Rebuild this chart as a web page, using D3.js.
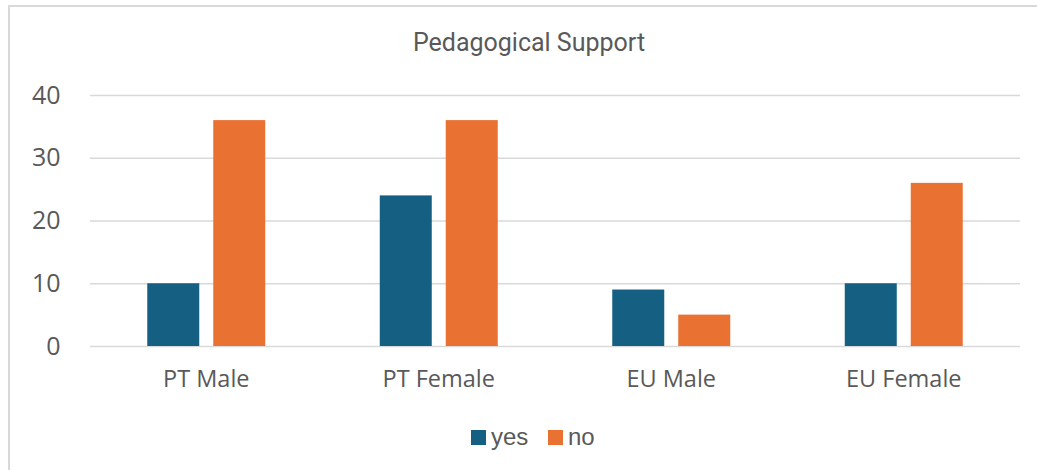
<!DOCTYPE html>
<html>
<head>
<meta charset="utf-8">
<script src="https://cdn.jsdelivr.net/npm/d3@7"></script>
<style>
  body { margin: 0; background: #fff; }
  #js_chart { width: 1037px; height: 470px; }
</style>
</head>
<body>
<div id="js_chart"></div>
<script>
const categories = ["PT Male", "PT Female", "EU Male", "EU Female"];
const seriesNames = ["yes", "no"];
const yesValues = [10, 24, 9, 10];
const noValues = [36, 36, 5, 26];
const yTicks = [0, 10, 20, 30, 40];

const colors = { yes: "#156082", no: "#E97132" };

function createPlot() {
    const width = 1037, height = 470;
    const plot = { left: 90, right: 1020, top: 95, bottom: 346 };

    const svg = d3.select("#js_chart")
        .append("svg")
        .attr("width", width)
        .attr("height", height);

    // chart border (runs off the right and bottom edge)
    svg.append("rect")
        .attr("x", 9).attr("y", 6)
        .attr("width", width + 20).attr("height", height + 20)
        .attr("fill", "#fff")
        .attr("stroke", "#d9d9d9")
        .attr("stroke-width", 2);

    let x = d3.scaleBand()
        .domain(categories)
        .range([plot.left, plot.right])
        .paddingInner(0.4925)
        .paddingOuter(0.24625);

    let xs = d3.scaleBand()
        .domain(seriesNames)
        .range([0, x.bandwidth()])
        .paddingInner(0.212)
        .paddingOuter(0);

    let y = d3.scaleLinear()
        .domain([0, 40])
        .range([plot.bottom, plot.top]);

    // Gridlines
    svg.append("g")
        .selectAll("line")
        .data(yTicks)
        .enter().append("line")
        .attr("x1", plot.left).attr("x2", plot.right)
        .attr("y1", d => y(d) + 0.5).attr("y2", d => y(d) + 0.5)
        .attr("stroke", "#d9d9d9")
        .attr("stroke-width", 1.5);

    // Y axis labels
    let yAxis = svg.append("g")
        .attr("transform", "translate(" + (plot.left - 29.5) + ",0)")
        .call(d3.axisLeft(y).tickValues(yTicks).tickSize(0).tickPadding(0));
    yAxis.select(".domain").remove();
    yAxis.selectAll("text")
        .attr("fill", "#595959")
        .style("font-family", "'Open Sans', sans-serif")
        .style("font-size", "25px");

    // Bars
    let rows = categories.map((c, i) => ({ cat: c, yes: yesValues[i], no: noValues[i] }));
    let groups = svg.append("g")
        .selectAll("g")
        .data(rows)
        .enter().append("g")
        .attr("transform", d => "translate(" + x(d.cat) + ",0)");

    groups.selectAll("rect")
        .data(d => seriesNames.map(s => ({ key: s, value: d[s] })))
        .enter().append("rect")
        .attr("x", d => xs(d.key))
        .attr("y", d => y(d.value))
        .attr("width", xs.bandwidth())
        .attr("height", d => y(0) - y(d.value))
        .attr("fill", d => colors[d.key]);

    // X axis labels
    let xAxis = svg.append("g")
        .attr("transform", "translate(0," + (plot.bottom + 24) + ")")
        .call(d3.axisBottom(x).tickSize(0).tickPadding(0));
    xAxis.select(".domain").remove();
    xAxis.selectAll("text")
        .attr("fill", "#595959")
        .style("font-family", "'Open Sans', sans-serif")
        .style("font-size", "23.5px");

    // Title
    svg.append("text")
        .attr("x", 529).attr("y", 51)
        .attr("text-anchor", "middle")
        .attr("fill", "#595959")
        .style("font-family", "'Roboto', sans-serif")
        .style("font-size", "25px")
        .text("Pedagogical Support");

    // Legend
    let legendX = [471, 548];
    let legend = svg.append("g")
        .selectAll("g")
        .data(seriesNames)
        .enter().append("g")
        .attr("transform", (d, i) => "translate(" + legendX[i] + ",430)");
    legend.append("rect")
        .attr("width", 15).attr("height", 15)
        .attr("fill", d => colors[d]);
    legend.append("text")
        .attr("x", 20).attr("y", 14.5)
        .attr("fill", "#595959")
        .style("font-family", "'Liberation Sans', Arial, sans-serif")
        .style("font-size", "24px")
        .text(d => d);
}

createPlot();
</script>
</body>
</html>
